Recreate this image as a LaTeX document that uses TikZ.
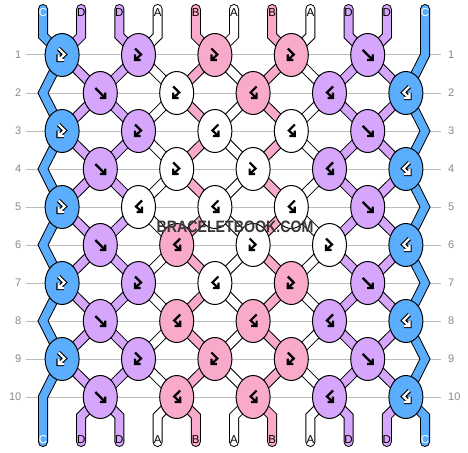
\documentclass[tikz,border=0pt]{standalone}
\usepackage{fontspec}
\setmainfont{Liberation Sans}
\usetikzlibrary{shapes.geometric}
\definecolor{cblue}{HTML}{5BADFD}
\definecolor{cpurp}{HTML}{D5A6FB}
\definecolor{cpink}{HTML}{F9AACA}
\definecolor{cwhite}{HTML}{FFFFFF}
\definecolor{rowgray}{HTML}{BDBDBD}
\definecolor{labgray}{HTML}{8A8A8A}
\definecolor{wmgray}{HTML}{383838}
\tikzset{
  rowline/.style={draw=rowgray,line width=1},
  rowlab/.style={text=labgray,font=\fontsize{11}{11}\selectfont,inner sep=0},
  strband/.style={line width=8,line cap=round,line join=miter,preaction={draw=black,line width=10,line cap=round,line join=miter}},
  knot/.style={ellipse,draw=black,line width=1,minimum width=34,minimum height=43,inner sep=0},
  toplab/.style={font=\fontsize{11.5}{11.5}\selectfont,inner sep=0},
  icounder/.style={}, icoover/.style={},
  wico/.style={icounder/.style={draw=black,line width=4.4,line join=miter},icoover/.style={draw=white,line width=2.2,line join=miter}},
  bico/.style={icounder/.style={},icoover/.style={draw=black,line width=2.2,line join=miter}},
  pics/icf/.style={code={\foreach \st in {icounder,icoover}{\path[\st] (-5,-5) -- (5,5) (-0.5,5) -- (5,5) -- (5,-0.5);}}},
  pics/icb/.style={code={\foreach \st in {icounder,icoover}{\path[\st] (5,-5) -- (-5,5) (0.5,5) -- (-5,5) -- (-5,-0.5);}}},
  pics/icfb/.style={code={\foreach \st in {icounder,icoover}{\path[\st] (-3.5,-6.5) -- (2.5,-0.5) -- (-3.5,5) (2,5) -- (-3.5,5) -- (-3.5,-0.5);}}},
  pics/icbf/.style={code={\foreach \st in {icounder,icoover}{\path[\st] (3.5,-6.5) -- (-2.5,-0.5) -- (3.5,5) (-2,5) -- (3.5,5) -- (3.5,-0.5);}}},
}
\begin{document}
\begin{tikzpicture}[x=1pt,y=-1pt]
\useasboundingbox (0,0) rectangle (468,452);
\fill[white] (0,0) rectangle (468,452);

% row guide lines and numbers
\foreach \r in {1,...,10}{
  \pgfmathsetmacro\yy{55+38*(\r-1)}
  \draw[rowline] (26,\yy) -- (441,\yy);
  \node[rowlab,anchor=east] (L\r) at (21.5,\yy) {\r};
  \node[rowlab,anchor=west] (R\r) at (448,\yy) {\r};
}

% string positions
\foreach \p in {0,...,10}{
  \pgfmathsetmacro\sx{43+38.2*\p}
  \coordinate (t\p) at (\sx,9);
  \coordinate (tb\p) at (\sx,35.9);
  \coordinate (bb\p) at (\sx,416.1);
  \coordinate (b\p) at (\sx,442);
  \foreach \r in {1,...,10}{
    \pgfmathsetmacro\yy{55+38*(\r-1)}
    \pgfmathsetmacro\xx{mod(\r,2)==1 ? (\p==10 ? \sx : 43+38.2*(2*floor(\p/2)+0.5)) : (\p==0 ? \sx : 43+38.2*(2*floor((\p+1)/2)-0.5))}
    \coordinate (s\p-\r) at (\xx,\yy);
  }
}

% strings
\foreach \p/\c in {0/cblue,1/cpurp,2/cpurp,3/cwhite,4/cpink,5/cwhite,6/cpink,7/cwhite,8/cpurp,9/cpurp,10/cblue}{
  \draw[strband,draw=\c] (t\p) -- (tb\p) -- (s\p-1) -- (s\p-2) -- (s\p-3) -- (s\p-4) -- (s\p-5) -- (s\p-6) -- (s\p-7) -- (s\p-8) -- (s\p-9) -- (s\p-10) -- (bb\p) -- (b\p);
}

% string labels
\foreach \p/\l/\tc in {0/C/white,1/D/black,2/D/black,3/A/black,4/B/black,5/A/black,6/B/black,7/A/black,8/D/black,9/D/black,10/C/white}{
  \pgfmathsetmacro\sx{43+38.2*\p}
  \node[toplab,text=\tc] (tl\p) at (\sx,12.5) {\l};
  \node[toplab,text=\tc] (bl\p) at (\sx,440) {\l};
}

% knots
\foreach \r/\lst in {
  1/{cblue/fb/wico,cpurp/fb/bico,cpink/fb/bico,cpink/fb/bico,cpurp/f/bico},
  2/{cpurp/f/bico,cwhite/fb/bico,cpink/bf/bico,cpurp/bf/bico,cblue/bf/wico},
  3/{cblue/fb/wico,cpurp/fb/bico,cwhite/bf/bico,cwhite/bf/bico,cpurp/f/bico},
  4/{cpurp/f/bico,cwhite/fb/bico,cwhite/fb/bico,cpurp/bf/bico,cblue/bf/wico},
  5/{cblue/fb/wico,cwhite/bf/bico,cwhite/bf/bico,cwhite/bf/bico,cpurp/f/bico},
  6/{cpurp/f/bico,cpink/bf/bico,cwhite/fb/bico,cwhite/fb/bico,cblue/bf/wico},
  7/{cblue/fb/wico,cpurp/fb/bico,cwhite/bf/bico,cpink/fb/bico,cpurp/f/bico},
  8/{cpurp/f/bico,cpink/bf/bico,cpink/bf/bico,cpurp/bf/bico,cblue/bf/wico},
  9/{cblue/fb/wico,cpurp/fb/bico,cpink/fb/bico,cpink/fb/bico,cpurp/f/bico},
  10/{cpurp/f/bico,cpink/bf/bico,cpink/bf/bico,cpurp/bf/bico,cblue/bf/wico}}{
  \pgfmathsetmacro\yy{55+38*(\r-1)}
  \pgfmathsetmacro\off{mod(\r,2)==1 ? 0.5 : 1.5}
  \foreach \c/\t/\s [count=\i from 0] in \lst {
    \pgfmathsetmacro\xx{43+38.2*(2*\i+\off)}
    \node[knot,fill=\c] (k\r-\i) at (\xx,\yy) {};
    \pic[\s] at (k\r-\i) {ic\t};
  }
}

% watermark
\node[text=wmgray,font=\bfseries\fontsize{16.5}{16.5}\selectfont,xscale=0.86,inner sep=0] (wm) at (235,227) {BRACELETBOOK.COM};
\end{tikzpicture}
\end{document}
